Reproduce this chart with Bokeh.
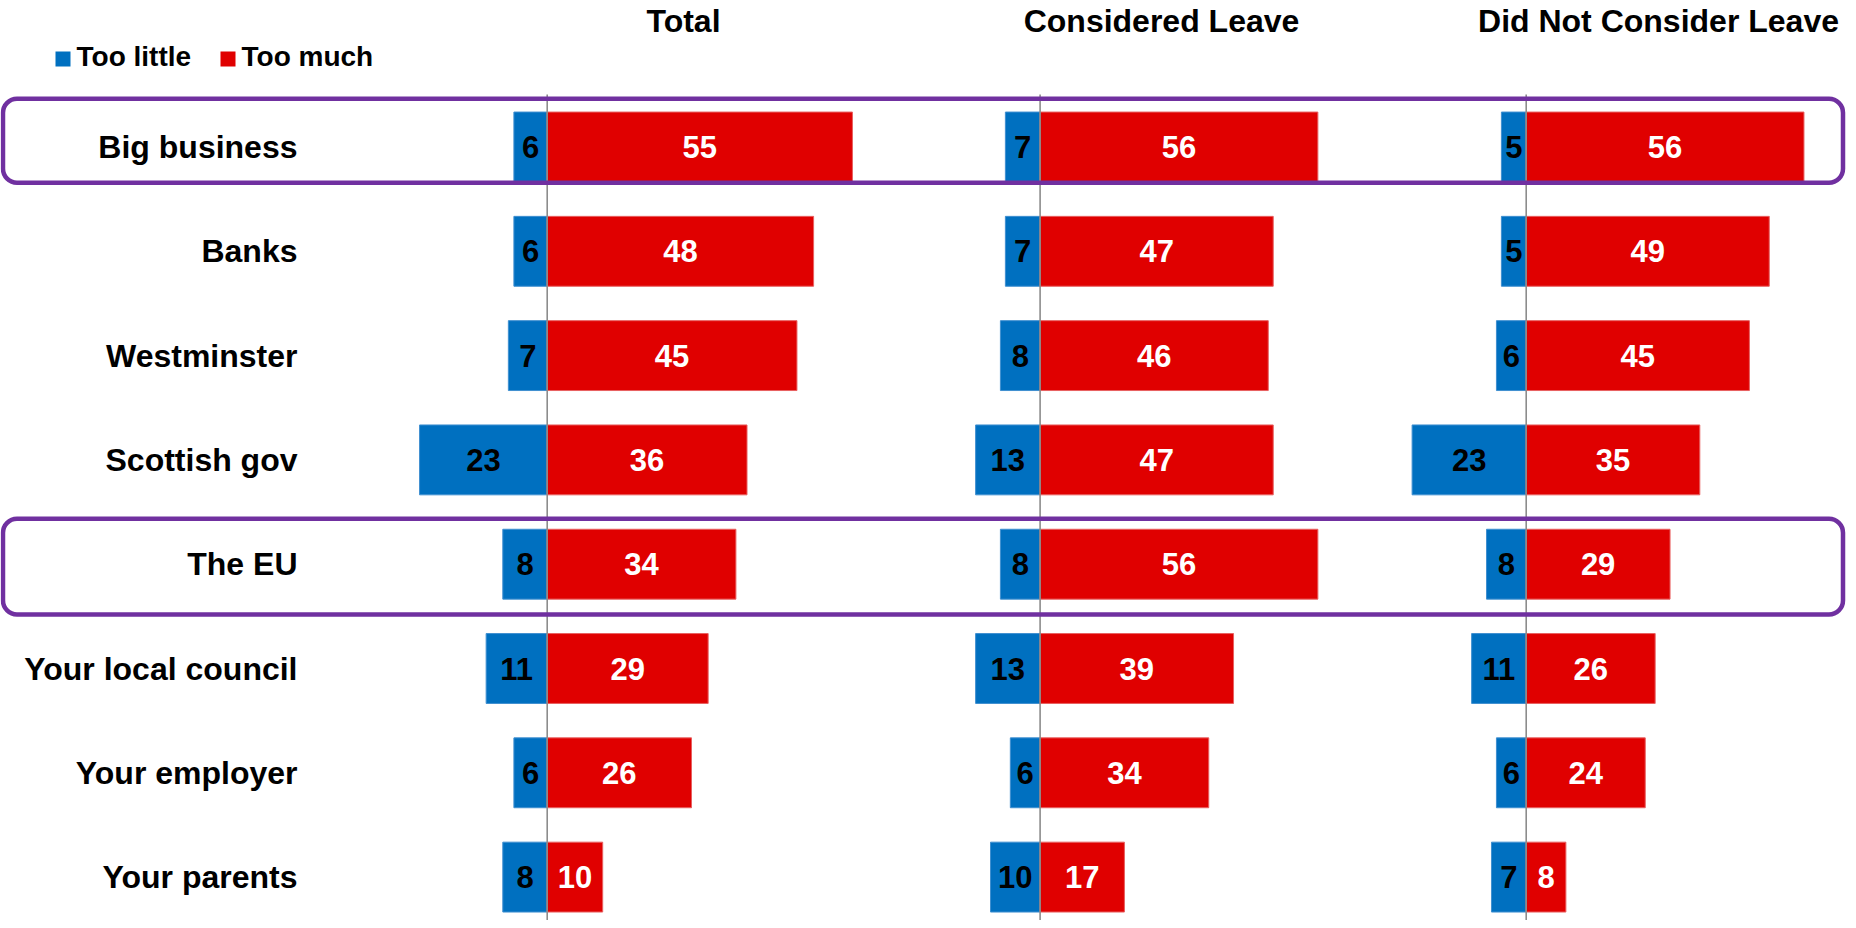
from bokeh.plotting import figure
from bokeh.models import Range1d, BoxAnnotation, ColumnDataSource
from bokeh.core.properties import value
from bokeh.embed import file_html
from bokeh.resources import INLINE

# ---------------- data ----------------
categories = ["Big business", "Banks", "Westminster", "Scottish gov",
              "The EU", "Your local council", "Your employer", "Your parents"]
panels = ["Total", "Considered Leave", "Did Not Consider Leave"]
legend_labels = ["Too little", "Too much"]
highlighted = ["Big business", "The EU"]

too_little_total = [6, 6, 7, 23, 8, 11, 6, 8]
too_much_total = [55, 48, 45, 36, 34, 29, 26, 10]
too_little_considered = [7, 7, 8, 13, 8, 13, 6, 10]
too_much_considered = [56, 47, 46, 47, 56, 39, 34, 17]
too_little_not = [5, 5, 6, 23, 8, 11, 6, 7]
too_much_not = [56, 49, 45, 35, 29, 26, 24, 8]

series = [(too_little_total, too_much_total),
          (too_little_considered, too_much_considered),
          (too_little_not, too_much_not)]

# ---------------- layout / style ----------------
W, H = 1848, 920
FONT = "Liberation Sans"
BLUE = "#0070C0"
RED = "#E00000"
PURPLE = "#7030A0"
GREY = "#8C8C8C"

ROW0 = 146.5      # px from top of frame to first row centre
STEP = 104.3      # px between rows
BAR_H = 0.67      # in row units
zero_px = [546.7, 1039.6, 1525.7]
px_per_unit = [5.55, 4.96, 4.96]
title_x = [683, 1161, 1658]
title_y = 20.9
label_right = 297
box_tops = [98.3, 518.3]
box_bottoms = [182.3, 614.0]
box_left, box_right = 2.5, 1842.5
zero_top = 94

p = figure(width=W, height=H, output_backend="svg", toolbar_location=None,
           x_range=Range1d(0, W),
           y_range=Range1d((H - ROW0) / STEP, -ROW0 / STEP),
           min_border=0, x_axis_location=None, y_axis_location=None,
           outline_line_color=None, background_fill_color="white")
p.grid.visible = False
p.extra_y_ranges = {"px": Range1d(H, 0)}
p.extra_x_ranges = {f"p{k}": Range1d(-z / s, (W - z) / s)
                    for k, (z, s) in enumerate(zip(zero_px, px_per_unit))}

rows = list(range(len(categories)))

for k, (little, much) in enumerate(series):
    rn = f"p{k}"
    src = ColumnDataSource(dict(
        y=rows,
        left=[-v for v in little],
        right=much,
        lx=[-v / 2 for v in little],
        mx=[v / 2 for v in much],
        lt=[str(v) for v in little],
        mt=[str(v) for v in much],
    ))
    p.hbar(y="y", left="left", right=0, height=BAR_H, source=src,
           x_range_name=rn, fill_color=BLUE, line_color="#3f8fd0", line_width=1)
    p.hbar(y="y", left=0, right="right", height=BAR_H, source=src,
           x_range_name=rn, fill_color=RED, line_color="#e86060", line_width=1)
    p.segment(x0=0, x1=0, y0=zero_top, y1=H, x_range_name=rn, y_range_name="px",
              line_color=GREY, line_width=1.6)
    p.text(x="lx", y="y", text="lt", source=src, x_range_name=rn,
           text_align="center", text_baseline="middle", text_color="black",
           text_font=value(FONT), text_font_style="bold", text_font_size="31px")
    p.text(x="mx", y="y", text="mt", source=src, x_range_name=rn,
           text_align="center", text_baseline="middle", text_color="white",
           text_font=value(FONT), text_font_style="bold", text_font_size="31px")

# category labels
p.text(x=label_right, y=rows, text=categories, text_align="right",
       text_baseline="middle", text_color="black", text_font=value(FONT),
       text_font_style="bold", text_font_size="32px")

# panel titles
p.text(x=title_x, y=[title_y] * len(panels), text=panels, y_range_name="px",
       text_align="center", text_baseline="middle", text_color="black",
       text_font=value(FONT), text_font_style="bold", text_font_size="32px")

# legend
p.rect(x=[62.5, 227.5], y=[58.5, 58.5], width=15, height=15, y_range_name="px",
       fill_color=[BLUE, RED], line_color=None)
p.text(x=[76, 241], y=[56.3, 56.3], text=legend_labels, y_range_name="px",
       text_align="left", text_baseline="middle", text_color="black",
       text_font=value(FONT), text_font_style="bold", text_font_size="28px")

# highlight boxes
for t, b in zip(box_tops, box_bottoms):
    box = BoxAnnotation(left=box_left, right=box_right, top=t, bottom=b,
                        y_range_name="px", fill_alpha=0, fill_color=None,
                        line_color=PURPLE, line_width=4.5, line_alpha=1)
    try:
        box.border_radius = 14
    except Exception:
        pass
    p.add_layout(box)

open("out.html", "w").write(file_html(p, INLINE))
